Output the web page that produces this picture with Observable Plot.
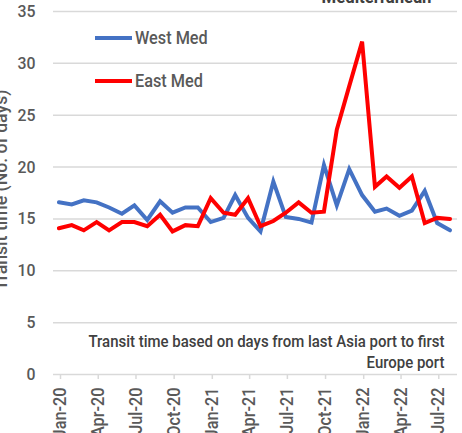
<!DOCTYPE html>
<html>
<head>
<meta charset="utf-8">
<script src="https://cdn.jsdelivr.net/npm/d3@7"></script>
<script src="https://cdn.jsdelivr.net/npm/@observablehq/plot@0.6"></script>
<style>
  html, body { margin: 0; padding: 0; background: #fff; }
  #wrap { position: relative; width: 462px; height: 433px; overflow: hidden; }
  .lg { position: absolute; display: flex; align-items: center; height: 20px; }
  .lg span.sw { display: inline-block; width: 37px; height: 4px; margin-right: 3px; }
  .lg svg { overflow: visible; }
</style>
</head>
<body>
<div id="wrap"></div>
<script>
const months = ["2020-01","2020-02","2020-03","2020-04","2020-05","2020-06","2020-07","2020-08","2020-09","2020-10","2020-11","2020-12",
  "2021-01","2021-02","2021-03","2021-04","2021-05","2021-06","2021-07","2021-08","2021-09","2021-10","2021-11","2021-12",
  "2022-01","2022-02","2022-03","2022-04","2022-05","2022-06","2022-07","2022-08"];
const westMed = [16.6,16.4,16.8,16.6,16.1,15.5,16.3,14.9,16.7,15.6,16.1,16.1,
  14.7,15.1,17.3,15.1,13.8,18.6,15.2,15.0,14.65,20.2,16.3,19.8,
  17.3,15.7,16.0,15.3,15.8,17.7,14.6,13.9];
const eastMed = [14.1,14.4,13.9,14.7,13.9,14.7,14.7,14.3,15.4,13.8,14.4,14.3,
  17.0,15.6,15.4,17.0,14.3,14.8,15.6,16.6,15.6,15.7,23.6,27.8,
  32.1,18.1,19.1,18.0,19.1,14.6,15.1,15.0];
const seriesNames = ["West Med", "East Med"];
const seriesColors = ["#4472C4", "#FF0000"];
const tickMonths = ["2020-01","2020-04","2020-07","2020-10","2021-01","2021-04","2021-07","2021-10","2022-01","2022-04","2022-07"];
const tickLabels = ["Jan-20","Apr-20","Jul-20","Oct-20","Jan-21","Apr-21","Jul-21","Oct-21","Jan-22","Apr-22","Jul-22"];
const yTicks = [0,5,10,15,20,25,30,35];
const yTitle = "Transit time (No. of days)";
const note = "Transit time based on days from last Asia port to first\nEurope port";
const topTitle = "Mediterranean";

const FONT = 'Roboto, "Noto Sans", sans-serif';
const SQUEEZE = 0.93;
const parseM = (s, day) => { const [y, m] = s.split("-").map(Number); return new Date(Date.UTC(y, m - 1, day)); };

const data = [];
seriesNames.forEach((name, s) => {
  const vals = s === 0 ? westMed : eastMed;
  months.forEach((m, i) => data.push({date: parseM(m, 14), value: vals[i], series: name}));
});
const tickDates = tickMonths.map(m => parseM(m, 1));
const labelOf = new Map(tickDates.map((d, i) => [+d, tickLabels[i]]));

const chart = Plot.plot({
  width: 462,
  height: 433,
  marginLeft: 53,
  marginRight: 5,
  marginTop: 11,
  marginBottom: 59,
  style: {fontFamily: FONT, fontWeight: 500, background: "#fff", overflow: "visible"},
  x: {type: "utc", domain: [parseM("2020-01", 1), parseM("2022-09", 1)]},
  y: {domain: [0, 35]},
  color: {domain: seriesNames, range: seriesColors},
  marks: [
    Plot.gridY(yTicks.filter(d => d > 0), {stroke: "#d9d9d9", strokeOpacity: 1, strokeWidth: 1.5}),
    Plot.ruleY([0], {stroke: "#d9d9d9", strokeWidth: 1.5}),
    Plot.axisY({ticks: yTicks, tickSize: 0, tickPadding: 18, fontSize: 17, fill: "#595959", label: null}),
    Plot.axisX({ticks: tickDates, tickFormat: d => labelOf.get(+d), tickRotate: -90, tickSize: 5, tickPadding: 8,
      stroke: "#d9d9d9", strokeWidth: 1.5, fontSize: 17.5, fill: "#595959", label: null, dx: 7}),
    Plot.line(data, {x: "date", y: "value", z: "series", stroke: "series", strokeWidth: 4, strokeLinejoin: "miter", strokeMiterlimit: 4}),
    Plot.text([note], {text: d => d, frameAnchor: "bottom-right", textAnchor: "end", lineAnchor: "bottom", dx: -13, dy: -7, fontSize: 16.1, lineHeight: 1.25, fill: "#404040"}),
    Plot.text([yTitle], {text: d => d, frameAnchor: "left", textAnchor: "middle", rotate: -90, dx: -53, dy: -3, fontSize: 19, fill: "#595959"}),
    Plot.text([topTitle], {text: d => d, frameAnchor: "top-right", textAnchor: "middle", lineAnchor: "bottom", dx: -81, dy: -9, fontSize: 18, fontWeight: "bold", fill: "#404040"})
  ]
});

const wrap = document.getElementById("wrap");
wrap.appendChild(chart);

// Legend (HTML overlay inside the plot area)
const lgPos = [28, 71];
seriesNames.forEach((name, i) => {
  const div = document.createElement("div");
  div.className = "lg";
  div.style.left = "95px";
  div.style.top = lgPos[i] + "px";
  div.innerHTML = `<span class="sw" style="background:${seriesColors[i]}"></span>` +
    `<svg width="80" height="20"><text x="0" y="16" font-family='${FONT}' font-weight="500" font-size="17.5" fill="#595959">${name}</text></svg>`;
  wrap.appendChild(div);
});

// Condense glyphs slightly to mimic the narrow typeface of the reference
function squeeze(root) {
  root.querySelectorAll("text").forEach(t => {
    const spans = t.querySelectorAll("tspan");
    const targets = spans.length ? Array.from(spans) : [t];
    targets.forEach(el => {
      const len = el.getComputedTextLength();
      if (len > 0) {
        el.setAttribute("textLength", (len * SQUEEZE).toFixed(2));
        el.setAttribute("lengthAdjust", "spacingAndGlyphs");
      }
    });
  });
}
squeeze(chart);
wrap.querySelectorAll(".lg svg").forEach(squeeze);
</script>
</body>
</html>
